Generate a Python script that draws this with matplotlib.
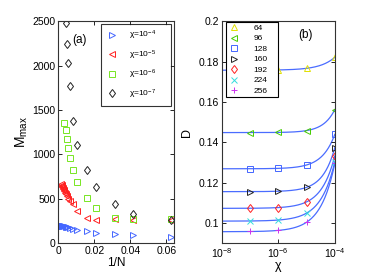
import matplotlib
matplotlib.use("Agg")
import matplotlib.pyplot as plt
import numpy as np

plt.rcParams['font.family'] = ['Liberation Sans', 'DejaVu Sans']
plt.rcParams['mathtext.fontset'] = 'custom'
plt.rcParams['mathtext.rm'] = 'Liberation Sans'
plt.rcParams['mathtext.it'] = 'Liberation Sans'

# ---- panel (a): M_max vs 1/N ----
N_blue = [2048, 1536, 1024, 768, 640, 512, 448, 384, 320, 256, 224, 192, 160,
          128, 96, 64, 48, 32, 24, 16]
M_blue = [195, 195, 194, 193, 192, 190, 189, 188, 186, 184, 182, 178, 172,
          163, 152, 131, 112, 100, 88, 70]
N_red = [640, 576, 512, 480, 448, 416, 384, 352, 320, 288, 256, 224, 192, 160,
         128, 96, 64, 48, 32, 24, 16]
M_red = [665, 655, 645, 638, 630, 620, 610, 598, 585, 568, 550, 530, 500, 470,
         440, 360, 280, 262, 265, 262, 262]
N_green = [320, 256, 224, 192, 160, 128, 96, 64, 48, 32, 24, 16]
M_green = [1358, 1275, 1178, 1072, 956, 829, 686, 506, 394, 281, 270, 266]
N_black = [256, 224, 192, 160, 128, 96, 64, 48, 32, 24, 16]
M_black = [2480, 2250, 2030, 1770, 1380, 1110, 820, 635, 435, 325, 262]

# ---- panel (b): D vs chi ----
chi = [1e-7, 1e-6, 1e-5, 1e-4]
D_vals = {
    64:  [0.1758, 0.1759, 0.1767, 0.1822],
    96:  [0.1448, 0.1449, 0.1458, 0.1562],
    128: [0.1269, 0.1270, 0.1287, 0.1439],
    160: [0.1155, 0.1157, 0.1176, 0.1373],
    192: [0.1073, 0.1075, 0.1104, 0.1332],
    224: [0.1010, 0.1013, 0.1048, 0.1302],
    256: [0.0957, 0.0962, 0.1003, 0.1295],
}
styles = {
    64:  ('^', '#e0e000'),
    96:  ('<', '#44cc00'),
    128: ('s', '#4466ff'),
    160: ('>', '#222222'),
    192: ('d', '#ff2020'),
    224: ('x', '#33dddd'),
    256: ('+', '#cc33ee'),
}

fig = plt.figure(figsize=(3.69, 2.78), dpi=100)
ax1 = fig.add_axes([0.1585, 0.126, 0.3117, 0.797])
ax2 = fig.add_axes([0.6008, 0.126, 0.3065, 0.797])

ms = 4.5
kw = dict(linestyle='none', markerfacecolor='none', markersize=ms, markeredgewidth=0.7)
ax1.plot(1 / np.array(N_blue), M_blue, '>', color='#4466ff', label=r'$\chi$=10$^{-4}$', **kw)
ax1.plot(1 / np.array(N_red), M_red, '<', color='#ff2020', label=r'$\chi$=10$^{-5}$', **kw)
ax1.plot(1 / np.array(N_green), M_green, 's', color='#77e622', label=r'$\chi$=10$^{-6}$', **kw)
ax1.plot(1 / np.array(N_black), M_black, 'd', color='#222222', label=r'$\chi$=10$^{-7}$', **kw)

ax1.set_xlim(0, 0.064)
ax1.set_ylim(0, 2500)
ax1.set_xticks([0, 0.02, 0.04, 0.06])
ax1.set_xticklabels(['0', '0.02', '0.04', '0.06'])
ax1.set_yticks([0, 500, 1000, 1500, 2000, 2500])
ax1.set_xlabel('1/N', fontsize=8.5, labelpad=1)
ax1.set_ylabel(r'M$_{\rm max}$', fontsize=10, labelpad=2)
ax1.text(0.187, 0.916, '(a)', transform=ax1.transAxes, fontsize=8.5,
         ha='center', va='center')
leg1 = ax1.legend(loc='upper left', bbox_to_anchor=(0.37, 0.989, 0.608, 0.0),
                  mode='expand', fontsize=6, frameon=True, fancybox=False,
                  borderpad=0.6, labelspacing=0.75, handletextpad=1.2,
                  handlelength=1.5, borderaxespad=0)
leg1.get_frame().set_edgecolor('black')
leg1.get_frame().set_linewidth(0.8)

chi_fine = np.logspace(-8, -4, 300)
for n, d in D_vals.items():
    m, c = styles[n]
    ax2.plot(chi, d, m, color=c, label=str(n), **kw)
    # fit D = D0 + A*chi^p to the points
    best = None
    for p in np.linspace(0.4, 1.6, 121):
        X = np.column_stack([np.ones(4), np.array(chi) ** p])
        coef, res, *_ = np.linalg.lstsq(X, np.array(d), rcond=None)
        err = np.sum((X @ coef - np.array(d)) ** 2)
        if best is None or err < best[0]:
            best = (err, p, coef)
    _, p, coef = best
    ax2.plot(chi_fine, coef[0] + coef[1] * chi_fine ** p, '-', color='#4a6cff',
             lw=0.9, zorder=1)

ax2.set_xscale('log')
ax2.set_xlim(1e-8, 1e-4)
ax2.set_ylim(0.09, 0.2)
ax2.set_xticks([1e-8, 1e-6, 1e-4])
ax2.xaxis.set_minor_locator(matplotlib.ticker.NullLocator())
ax2.set_yticks([0.1, 0.12, 0.14, 0.16, 0.18, 0.2])
ax2.set_yticklabels(['0.1', '0.12', '0.14', '0.16', '0.18', '0.2'])
ax2.set_xlabel(r'$\chi$', fontsize=9, labelpad=0)
ax2.set_ylabel('D', fontsize=9, labelpad=4)
ax2.text(0.737, 0.94, '(b)', transform=ax2.transAxes, fontsize=8.5,
         ha='center', va='center')
leg2 = ax2.legend(loc='upper left', bbox_to_anchor=(0.035, 0.999, 0.465, 0.0),
                  mode='expand', fontsize=6, frameon=True, fancybox=False,
                  borderpad=0.3, labelspacing=0.32, handletextpad=1.5,
                  handlelength=1.5, borderaxespad=0, framealpha=1)
leg2.get_frame().set_edgecolor('black')
leg2.get_frame().set_linewidth(0.8)

for ax in (ax1, ax2):
    ax.tick_params(direction='in', top=True, right=True, labelsize=7.5,
                   length=3, width=0.6, pad=2)
    for s in ax.spines.values():
        s.set_linewidth(0.8)
        s.set_color('#333333')

fig.savefig('out.png', dpi=100)
